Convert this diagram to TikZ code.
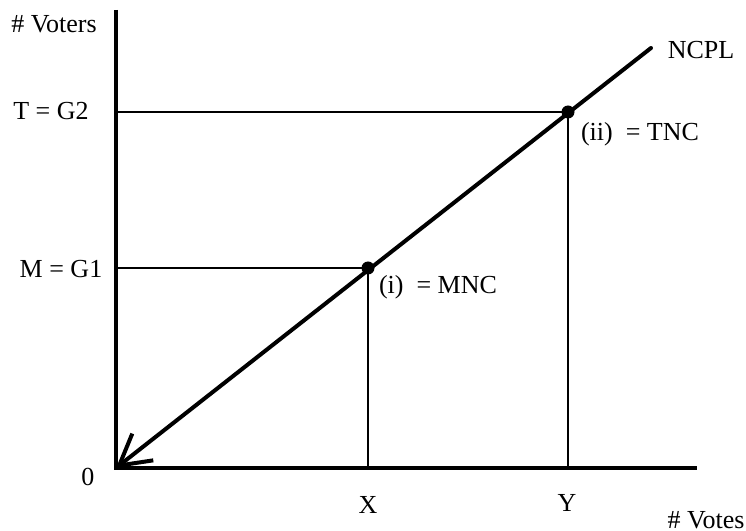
\documentclass[tikz,border=0pt]{standalone}
\usepackage{fontspec}
\setmainfont{Liberation Serif}
\usetikzlibrary{arrows.meta}

\begin{document}
\begin{tikzpicture}[
  x=0.5pt,y=0.5pt,
  axis/.style={line width=2pt},
  ncpl/.style={line width=2pt,line cap=round,
               {Straight Barb[length=15pt,width=17pt,line width=2pt]}-},
  guide/.style={line width=1pt},
  dot/.style={circle,fill=black,inner sep=0pt,minimum size=6.5pt},
  lbl/.style={font=\fontsize{13}{15}\selectfont,inner sep=1pt}
]
\useasboundingbox (0,0) rectangle (746,531);

% Axes and the points on them.
\coordinate (O)    at (116,63);
\coordinate (ytop) at (116,521);
\coordinate (xend) at (697,63);
\coordinate (lend) at (651,483);
\coordinate (mleft) at (116,263);
\coordinate (tleft) at (116,419);
\coordinate (xfoot) at (368,63);
\coordinate (yfoot) at (568,63);
\node[dot] (mnc) at (368,263) {};
\node[dot] (tnc) at (568,419) {};

\draw[axis] (ytop) -- (O) -- (xend);

% Guide lines from the two points to the axes.
\draw[guide] (mleft) -- (mnc.center) -- (xfoot);
\draw[guide] (tleft) -- (tnc.center) -- (yfoot);

% The NCPL line, arrowhead at the origin.
\draw[ncpl] (O) -- (lend);

\node[lbl] (voters) at (54,507) {\# Voters};
\node[lbl] (tg) at (51,420) {T = G2};
\node[lbl] (mg) at (61,262) {M = G1};
\node[lbl] (zero) at (88,54) {0};
\node[lbl] (xl) at (368,26) {X};
\node[lbl] (yl) at (567,28) {Y};
\node[lbl] (votes) at (706,11) {\# Votes};
\node[lbl] (ncpltext) at (701,481) {NCPL};
\node[lbl] (ml) at (438,244) {(i) \ = MNC};
\node[lbl] (tl) at (640,397) {(ii) \ = TNC};
\end{tikzpicture}
\end{document}
